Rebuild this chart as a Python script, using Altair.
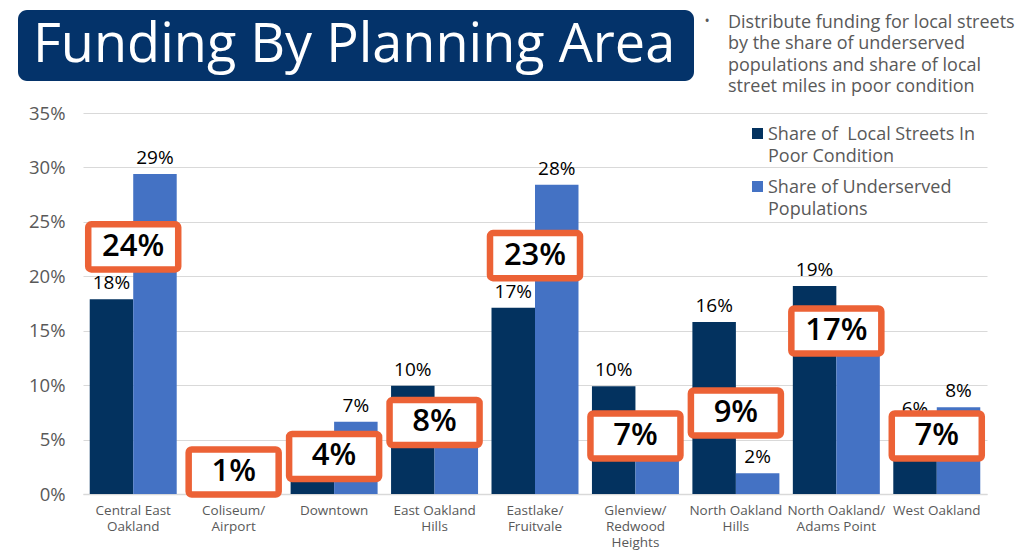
import altair as alt
import pandas as pd

# ---- data -------------------------------------------------------------
areas = [
    "Central East\nOakland",
    "Coliseum/\nAirport",
    "Downtown",
    "East Oakland\nHills",
    "Eastlake/\nFruitvale",
    "Glenview/\nRedwood\nHeights",
    "North Oakland\nHills",
    "North Oakland/\nAdams Point",
    "West Oakland",
]
series = ["Share of  Local Streets In Poor Condition", "Share of Underserved Populations"]
poor_streets = [0.179, 0.010, 0.014, 0.0995, 0.171, 0.099, 0.158, 0.191, 0.063]
underserved = [0.294, 0.012, 0.0664, 0.060, 0.284, 0.042, 0.019, 0.150, 0.0796]
funding = [0.24, 0.01, 0.04, 0.08, 0.23, 0.07, 0.09, 0.17, 0.07]

title_text = "Funding By Planning Area"
note_text = ("Distribute funding for local streets\nby the share of underserved\n"
             "populations and share of local\nstreet miles in poor condition")
legend_lines = ["Share of\u00a0 Local Streets In\nPoor Condition", "Share of Underserved\nPopulations"]

# ---- layout / style ---------------------------------------------------
NAVY = "#03325f"
BLUE = "#4472c4"
ORANGE = "#ec6236"
GREY = "#595959"
GRID = "#d9d9d9"
FONT = "Open Sans"

# vertical centre of each funding call-out box (in axis units)
callout_center = [0.227, 0.0202, 0.0345, 0.0657, 0.219, 0.0533, 0.0744, 0.1497, 0.0533]
BOX_HALF = 0.0207  # half of the box height in axis units

bars = pd.DataFrame(
    [{"area": a, "series": series[0], "value": v} for a, v in zip(areas, poor_streets)]
    + [{"area": a, "series": series[1], "value": v} for a, v in zip(areas, underserved)]
)
callouts = pd.DataFrame({"area": areas, "funding": funding, "center": callout_center})

color_scale = alt.Scale(domain=series, range=[NAVY, BLUE])
y_scale = alt.Scale(domain=[0, 0.35], nice=False)
y_axis = alt.Axis(
    title=None, format=".0%", values=[0, 0.05, 0.10, 0.15, 0.20, 0.25, 0.30, 0.35],
    grid=True, gridColor=GRID, gridWidth=1.2, domain=False, ticks=False,
    labelFont=FONT, labelFontSize=18.5, labelColor=GREY, labelPadding=18,
)
x_enc = alt.X(
    "area:N", sort=areas, title=None,
    scale=alt.Scale(paddingInner=0.134, paddingOuter=0.067),
    axis=alt.Axis(
        labelExpr="split(datum.label, '\\n')", labelAngle=0, labelFont=FONT,
        labelFontSize=13.5, labelColor=GREY, labelLineHeight=16, labelPadding=9,
        labelOverlap=False, labelBound=False, labelLimit=300, ticks=False,
        domainColor=GRID, domainWidth=1.3,
    ),
)
x_off = alt.XOffset("series:N", sort=series, scale=alt.Scale(paddingInner=0, paddingOuter=0))

base = alt.Chart(bars)
bar_layer = base.mark_bar().encode(
    x=x_enc, xOffset=x_off,
    y=alt.Y("value:Q", scale=y_scale, axis=y_axis, title=None),
    color=alt.Color("series:N", scale=color_scale, legend=None),
)
bar_labels = base.mark_text(
    baseline="middle", dy=-16, font=FONT, fontSize=19, fontWeight=500, color="black"
).encode(
    x=x_enc, xOffset=x_off,
    y=alt.Y("value:Q", scale=y_scale, axis=y_axis, title=None),
    text=alt.Text("value:Q", format=".0%"),
)

cbase = alt.Chart(callouts).transform_calculate(
    lo=f"datum.center - {BOX_HALF}", hi=f"datum.center + {BOX_HALF}"
)
callout_boxes = cbase.mark_bar(width=90, fill="white", stroke=ORANGE, strokeWidth=6.5, cornerRadius=3).encode(
    x=x_enc,
    y=alt.Y("lo:Q", scale=y_scale, axis=y_axis, title=None),
    y2="hi:Q",
)
callout_text = cbase.mark_text(baseline="middle", font=FONT, fontSize=31, fontWeight=600, color="black").encode(
    x=x_enc,
    y=alt.Y("center:Q", scale=y_scale, axis=y_axis, title=None),
    text=alt.Text("funding:Q", format=".0%"),
)

# ---- header: title banner and note --------------------------------------
title_df = pd.DataFrame({"t": [title_text]})
banner = alt.Chart(title_df).mark_rect(cornerRadius=9, color="#04336a").encode(
    x=alt.value(-65), x2=alt.value(611), y=alt.value(-103), y2=alt.value(-32)
)
banner_text = alt.Chart(title_df).mark_text(
    align="left", baseline="alphabetic", font=FONT, fontSize=54, fontWeight=500, color="white"
).encode(x=alt.value(-50), y=alt.value(-51), text="t:N")

note_df = pd.DataFrame({"t": [note_text]})
bullet = alt.Chart(note_df).mark_text(
    align="center", baseline="middle", font=FONT, fontSize=14, color=GREY
).encode(x=alt.value(624), y=alt.value(-91), text=alt.value("•"))
note = alt.Chart(note_df).mark_text(
    align="left", baseline="alphabetic", font=FONT, fontSize=18, color=GREY,
    lineBreak="\n", lineHeight=21.3,
).encode(x=alt.value(645), y=alt.value(-85), text="t:N")

# ---- legend ------------------------------------------------------------
legend_layers = []
for i, (s, lbl) in enumerate(zip(series, legend_lines)):
    ldf = pd.DataFrame({"series": [s], "label": [lbl]})
    legend_layers.append(
        alt.Chart(ldf).mark_square(size=121, opacity=1).encode(
            x=alt.value(674.5), y=alt.value(20.5 + 53 * i),
            color=alt.Color("series:N", scale=color_scale, legend=None),
        )
    )
    legend_layers.append(
        alt.Chart(ldf).mark_text(
            align="left", baseline="alphabetic", font=FONT, fontSize=18, color=GREY,
            lineBreak="\n", lineHeight=22,
        ).encode(x=alt.value(685), y=alt.value(27 + 53 * i), text="label:N")
    )

chart = alt.layer(
    bar_layer, bar_labels, callout_boxes, callout_text,
    banner, banner_text, bullet, note, *legend_layers,
).properties(
    width=904, height=381,
    autosize=alt.AutoSizeParams(type="none"),
    padding={"left": 83, "top": 113, "right": 45, "bottom": 64},
    background="white",
).configure_view(stroke=None)

chart.save("out.html", embed_options={"renderer": "svg", "actions": False})
